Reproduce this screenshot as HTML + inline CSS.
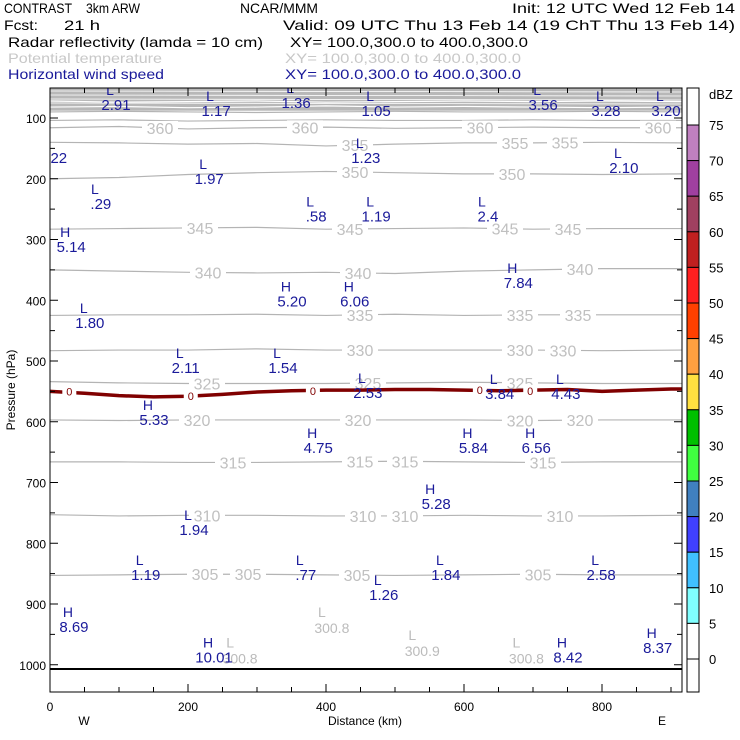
<!DOCTYPE html>
<html><head><meta charset="utf-8"><style>
body{margin:0;background:#fff;}
svg{display:block;font-family:"Liberation Sans",sans-serif;}
</style></head><body>
<svg id="c" width="740" height="740" viewBox="0 0 740 740">
<g font-size="14">
<text x="4" y="13" fill="#000" textLength="68" lengthAdjust="spacingAndGlyphs">CONTRAST</text>
<text x="86" y="13" fill="#000" textLength="54" lengthAdjust="spacingAndGlyphs">3km ARW</text>
<text x="240" y="13" fill="#000" textLength="78" lengthAdjust="spacingAndGlyphs">NCAR/MMM</text>
<text x="512" y="13" fill="#000" textLength="223" lengthAdjust="spacingAndGlyphs">Init: 12 UTC Wed 12 Feb 14</text>
<text x="4" y="30" fill="#000" textLength="34" lengthAdjust="spacingAndGlyphs">Fcst:</text>
<text x="64" y="30" fill="#000" textLength="36" lengthAdjust="spacingAndGlyphs">21 h</text>
<text x="283" y="30" fill="#000" textLength="452" lengthAdjust="spacingAndGlyphs">Valid: 09 UTC Thu 13 Feb 14 (19 ChT Thu 13 Feb 14)</text>
<text x="8" y="47" fill="#000" textLength="255" lengthAdjust="spacingAndGlyphs">Radar reflectivity (lamda = 10 cm)</text>
<text x="290" y="47" fill="#000" textLength="238" lengthAdjust="spacingAndGlyphs">XY= 100.0,300.0 to 400.0,300.0</text>
<text x="8" y="63" fill="#c8c8c8" textLength="154" lengthAdjust="spacingAndGlyphs">Potential temperature</text>
<text x="285" y="63" fill="#c8c8c8" textLength="236" lengthAdjust="spacingAndGlyphs">XY= 100.0,300.0 to 400.0,300.0</text>
<text x="8" y="79" fill="#1a1a9a" textLength="156" lengthAdjust="spacingAndGlyphs">Horizontal wind speed</text>
<text x="285" y="79" fill="#1a1a9a" textLength="236" lengthAdjust="spacingAndGlyphs">XY= 100.0,300.0 to 400.0,300.0</text>
</g>
<g id="plot"></g>
<g id="cbar"></g>
</svg>
<script>
const xKm=[0,100,200,300,400,500,600,700,800,916];
const thetaLevels=[380,375,370,365,360,355,350,345,340,335,330,325,320,315,310,305];
const thetaP=[
[72,74,73,72,74,73,72,73,72,73],
[82,81,83,82,80,82,81,82,83,82],
[90,89,90,91,90,89,90,90,89,90],
[104,103,105,104,103,104,104,103,104,104],
[116,114,118,116,115,117,116,115,116,116],
[140,141,143,142,146,143,141,141,140,141],
[200,198,193,190,188,190,192,192,193,192],
[283,282,281,280,283,282,281,283,282,282],
[350,352,354,355,354,356,352,350,348,348],
[425,424,424,423,425,423,425,424,424,424],
[483,482,482,480,482,482,482,482,483,482],
[534,536,537,537,537,536,535,536,537,537],
[597,598,597,597,597,597,597,598,597,597],
[666,666,667,667,666,665,666,667,666,666],
[753,755,754,754,755,755,754,755,755,754],
[853,852,851,851,852,853,852,851,852,852]];
const thetaLabelX=[[],[],[],[],[160,305,480,658],[355,515,565],[355,512],[200,350,505,568],[208,358,580],[360,520,578],[360,520,563],[207,368,520],[197,358,520,580],[233,360,405,543],[207,363,405,560],[205,248,357,538]];
const frzKm=[0,50,100,150,200,250,300,350,400,450,500,550,600,650,700,750,800,850,900,916];
const frzP=[550,553,557,559,558,555,551,549,548,548,547,547,548,549,548,547,550,548,546,546];
const frzLabelKm=[28,204,381,623,696];
const windType=['L','L','L','L','L','L','L','L','L','L','L','L','L','L','H','H','H','H','L','L','L','L','L','L','H','H','H','H','H','L','L','L','L','L','L','L','H','H','H','H'];
const windVal=['2.91','1.17','1.36','1.05','3.56','3.28','3.20','1.22','1.23','1.97','2.10','.29','.58','1.19','5.14','7.84','5.20','6.06','2.4','1.80','2.11','1.54','2.53','3.84','5.33','4.75','5.84','6.56','5.28','4.43','1.94','1.19','.77','1.84','2.58','1.26','8.69','10.01','8.42','8.37'];
const windKm=[87,232,348,464,706,797,884,-5,449,222,823,65,377,464,22,670,342,433,626,49,188,329,452,643,142,380,605,696,551,739,200,130,362,565,790,475,26,229,742,872];
const windP=[62,72,59,72,62,72,72,149,149,184,166,225,246,246,296,355,386,386,246,421,495,495,536,538,581,627,627,627,719,538,762,836,836,836,836,869,921,972,972,956];
const grayKm=[394,525,261,676];
const grayP=[921,959,972,972];
const grayVal=['300.8','300.9','300.8','300.8'];
const dbzLevels=[75,70,65,60,55,50,45,40,35,30,25,20,15,10,5,0];
const dbzColors=['#c080c0','#a040a0','#a04060','#c02020','#ff2020','#ff4000','#ffa040','#ffe040','#00c000','#40ff40','#4080c0','#4040ff','#40c0ff','#80ffff','#ffffff'];
const xTicks=[0,200,400,600,800];
const pTicks=[100,200,300,400,500,600,700,800,900,1000];

const NS='http://www.w3.org/2000/svg';
const X0=50,X1=682,Y0=88,Y1=692;
const xs=k=>50+k*0.69;
const ys=p=>118+(p-100)*0.6075;
const plot=document.getElementById('plot');
function mk(tag,attrs,parent,text){const e=document.createElementNS(NS,tag);for(const k in attrs)e.setAttribute(k,attrs[k]);if(text!==undefined)e.textContent=text;(parent||plot).appendChild(e);return e;}

const clip=mk('clipPath',{id:'pc'});mk('rect',{x:X0,y:Y0,width:X1-X0,height:Y1-Y0},clip);
const inner=mk('g',{'clip-path':'url(#pc)'});


const topBand=mk('rect',{x:X0,y:Y0,width:X1-X0,height:ys(88)-Y0,fill:'#b8b8b8'},inner);


for(let i=0;i<4;i++){const l=mk('line',{x1:X0,x2:X1,y1:Y0+3+i*4,y2:Y0+4+i*4,stroke:'#fff','stroke-width':0.8},inner);}
thetaLevels.forEach((lv,i)=>{
  const pts=xKm.map((k,j)=>xs(k)+','+ys(thetaP[i][j])).join(' ');
  const pl=mk('polyline',{points:pts,fill:'none',stroke:i<2?'#ffffff':'#b4b4b4','stroke-width':1.2},inner);
  
  
  thetaLabelX[i].forEach(px=>{
    const km=(px-50)/0.69;let j=0;while(j<xKm.length-2&&xKm[j+1]<km)j++;
    const t=(km-xKm[j])/(xKm[j+1]-xKm[j]);const p=thetaP[i][j]+(thetaP[i][j+1]-thetaP[i][j])*t;
    const bg=mk('rect',{x:px-18,y:ys(p)-7,width:36,height:14,fill:'#fff'},inner);
    
    const tx=mk('text',{x:px,y:ys(p)+6,'text-anchor':'middle','font-size':16,fill:'#c0c0c0'},inner,String(lv));
    
  });
});
const fz=mk('polyline',{points:frzKm.map((k,j)=>xs(k)+','+ys(frzP[j])).join(' '),fill:'none',stroke:'#800000','stroke-width':3.5},inner);


frzLabelKm.forEach(k=>{let j=0;while(j<frzKm.length-2&&frzKm[j+1]<k)j++;const p=frzP[j];
  const bg=mk('rect',{x:xs(k)-7,y:ys(p)-6,width:14,height:12,fill:'#fff'},inner);
  const t=mk('text',{x:xs(k),y:ys(p)+4,'text-anchor':'middle','font-size':11,fill:'#800000'},inner,'0');});
const gl=mk('line',{x1:X0,x2:X1,y1:669,y2:669,stroke:'#000','stroke-width':2},inner);

grayKm.forEach((k,i)=>{
  const a=mk('text',{x:xs(k),y:ys(grayP[i]),'text-anchor':'middle','font-size':14,fill:'#bbb'},inner,'L');
  const b=mk('text',{x:xs(k)+10,y:ys(grayP[i])+16,'text-anchor':'middle','font-size':14,fill:'#bbb'},inner,grayVal[i]);
});
windType.forEach((ty,i)=>{
  const x=xs(windKm[i]),y=ys(windP[i]);
  const a=mk('text',{x:x,y:y,'text-anchor':'middle','font-size':14,fill:'#1a1a9a'},inner,ty);
  const b=mk('text',{x:x+6,y:y+15,'text-anchor':'middle','font-size':15,fill:'#1a1a9a'},inner,windVal[i]);
});
const fr=mk('rect',{x:X0,y:Y0,width:X1-X0,height:Y1-Y0,fill:'none',stroke:'#000','stroke-width':1});

for(let k=0;k<=900;k+=50){const L=k%200===0?8:5;
  const t1=mk('line',{x1:xs(k),x2:xs(k),y1:Y0,y2:Y0+L,stroke:'#000'});
  const t2=mk('line',{x1:xs(k),x2:xs(k),y1:Y1,y2:Y1-L,stroke:'#000'});}
for(let p=100;p<=1000;p+=50){const L=p%100===0?8:5;
  const t1=mk('line',{x1:X0,x2:X0+L,y1:ys(p),y2:ys(p),stroke:'#000'});
  const t2=mk('line',{x1:X1,x2:X1-L,y1:ys(p),y2:ys(p),stroke:'#000'});}
xTicks.forEach(k=>{const t=mk('text',{x:xs(k),y:711,'text-anchor':'middle','font-size':12},plot,String(k));});
pTicks.forEach(p=>{const t=mk('text',{x:46,y:ys(p)+5,'text-anchor':'end','font-size':12},plot,String(p));});
let t;
t=mk('text',{x:365,y:725,'text-anchor':'middle','font-size':12},plot,'Distance (km)');
t=mk('text',{x:84,y:725,'text-anchor':'middle','font-size':12},plot,'W');
t=mk('text',{x:662,y:725,'text-anchor':'middle','font-size':12},plot,'E');
t=mk('text',{x:0,y:0,'text-anchor':'middle','font-size':12,transform:'translate(15,390) rotate(-90)'},plot,'Pressure (hPa)');

const cb=document.getElementById('cbar');

const cy=v=>125+(75-v)*(534/75);
dbzColors.forEach((c,i)=>{const r=mk('rect',{x:687,y:cy(dbzLevels[i]),width:12,height:cy(dbzLevels[i+1])-cy(dbzLevels[i]),fill:c,stroke:'#000','stroke-width':1},cb);});
let r=mk('rect',{x:687,y:88,width:12,height:cy(75)-88,fill:'#fff',stroke:'#000'},cb);
r=mk('rect',{x:687,y:cy(0),width:12,height:692-cy(0),fill:'#fff',stroke:'#000'},cb);
dbzLevels.forEach(v=>{const tt=mk('text',{x:709,y:cy(v)+5,'font-size':13},cb,String(v));});
t=mk('text',{x:709,y:99,'font-size':13},cb,'dBZ');
</script>
</body></html>
